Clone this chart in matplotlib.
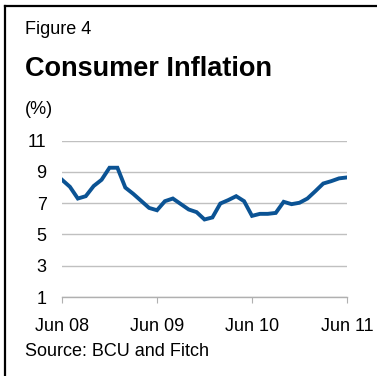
import matplotlib.pyplot as plt
from matplotlib.lines import Line2D

# Monthly consumer inflation, Jun 08 - Jun 11 (%)
months = list(range(37))
inflation = [8.5, 8.05, 7.3, 7.45, 8.1, 8.5, 9.27, 9.27, 8.0, 7.6, 7.15, 6.7,
             6.55, 7.13, 7.3, 6.95, 6.6, 6.43, 5.96, 6.09, 6.98, 7.2, 7.45, 7.13,
             6.19, 6.32, 6.32, 6.38, 7.09, 6.94, 7.03, 7.3, 7.77, 8.26, 8.41,
             8.59, 8.65]
x_ticks = [0, 12, 24, 36]
x_labels = ['Jun 08', 'Jun 09', 'Jun 10', 'Jun 11']
y_ticks = [1, 3, 5, 7, 9, 11]

plt.rcParams['font.family'] = ['Liberation Sans', 'DejaVu Sans']

W, H = 377, 376
fig = plt.figure(figsize=(W / 100, H / 100), dpi=100, facecolor='white')

# frame lines on the left and top
fig.add_artist(Line2D([5 / W, 5 / W], [0, 1 - 6 / H], color='black', lw=1.6))
fig.add_artist(Line2D([5 / W, 1], [1 - 6 / H, 1 - 6 / H], color='black', lw=1.6))

fig.text(25 / W, 1 - 34 / H, 'Figure 4', fontsize=13, va='baseline', ha='left')
fig.text(25 / W, 1 - 75.5 / H, 'Consumer Inflation', fontsize=19.5, fontweight='bold',
         va='baseline', ha='left')
fig.text(25 / W, 1 - 114 / H, '(%)', fontsize=13, va='baseline', ha='left')
fig.text(25 / W, 1 - 356 / H, 'Source: BCU and Fitch', fontsize=13, va='baseline', ha='left')

# plot area in pixels: x 62..347, y 140.7..297
left, right, top, bottom = 62, 347, 140.7, 297
ax = fig.add_axes([left / W, 1 - bottom / H, (right - left) / W, (bottom - top) / H])
ax.plot(months, inflation, color='#0b5394', lw=2.8, solid_joinstyle='miter')

ax.set_xlim(0, 36)
ax.set_ylim(1, 11)
ax.set_yticks(y_ticks)
ax.set_xticks(x_ticks)
ax.set_xticklabels(x_labels)
ax.grid(axis='y', color='#c0c0c0', lw=1)
ax.set_axisbelow(True)
for side in ['top', 'right', 'left']:
    ax.spines[side].set_visible(False)
ax.spines['bottom'].set_color('#b0b0b0')
ax.spines['bottom'].set_linewidth(1)
ax.tick_params(axis='y', length=0, pad=11, labelsize=13)
ax.tick_params(axis='x', direction='out', length=4, color='#b0b0b0', pad=11, labelsize=13)
ax.set_facecolor('white')

fig.savefig('out.png', dpi=100, facecolor='white')
